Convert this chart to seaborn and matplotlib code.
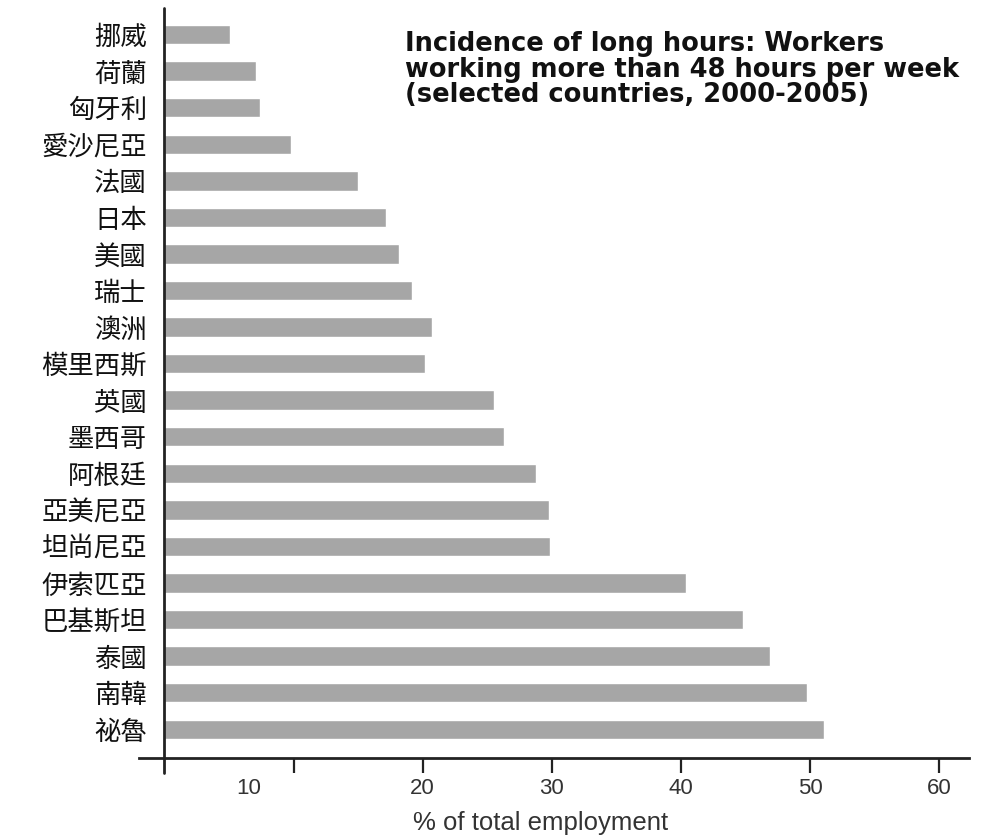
import matplotlib
matplotlib.use("Agg")
import matplotlib.pyplot as plt
import matplotlib.transforms as mtransforms
import seaborn as sns
import pandas as pd

# countries top to bottom, as on the chart
countries = ["挪威", "荷蘭", "匈牙利", "愛沙尼亞", "法國", "日本", "美國", "瑞士", "澳洲", "模里西斯",
             "英國", "墨西哥", "阿根廷", "亞美尼亞", "坦尚尼亞", "伊索匹亞", "巴基斯坦", "泰國", "南韓", "祕魯"]
share = [5.1, 7.1, 7.4, 9.8, 15.0, 17.2, 18.2, 19.2, 20.7, 20.2,
         25.5, 26.3, 28.8, 29.8, 29.9, 40.4, 44.8, 46.9, 49.8, 51.1]
xticks = [10, 20, 30, 40, 50, 60]
title = "Incidence of long hours: Workers\nworking more than 48 hours per week\n(selected countries, 2000-2005)"
xlabel = "% of total employment"

df = pd.DataFrame({"country": countries, "share": share})

sns.set_style("white")
plt.rcParams["font.family"] = ["Liberation Sans", "Noto Sans CJK TC", "DejaVu Sans"]

fig = plt.figure(figsize=(10.04, 8.39), dpi=100)
ax = fig.add_axes([0.138, 0.096, 0.827, 0.895])

sns.barplot(data=df, x="share", y="country", order=countries, orient="h",
            color="#a6a6a6", width=0.53, saturation=1, ax=ax)

ax.set_xlim(-2, 62.3)
ax.set_ylim(19.8, -0.74)

for s in ["top", "right", "left"]:
    ax.spines[s].set_visible(False)
ax.spines["bottom"].set_linewidth(2)
ax.spines["bottom"].set_color("#222222")
# vertical axis drawn at zero, running a little below the x axis
ax.axvline(0, ymin=-0.02, ymax=1, color="#222222", lw=2, clip_on=False)

ax.set_xticks(xticks)
ax.set_xticklabels([str(t) for t in xticks])
ax.tick_params(axis="x", bottom=True, length=11, width=1.6, color="#222222", pad=3,
               labelsize=16, labelcolor="#333333")
ax.tick_params(axis="y", left=False, length=0, pad=-6)
for lbl in ax.get_yticklabels():
    lbl.set_fontfamily(["Noto Sans CJK TC"])
    lbl.set_fontsize(19)
    lbl.set_color("#111111")

# the "10" label sits left of its tick in the original print
lbl10 = ax.get_xticklabels()[0]
lbl10.set_transform(lbl10.get_transform() + mtransforms.ScaledTranslation(-0.45, 0, fig.dpi_scale_trans))

ax.set_xlabel(xlabel, fontsize=18.5, color="#333333", labelpad=9)
ax.xaxis.set_label_coords(0.484, -0.07)
ax.set_ylabel("")

fig.text(0.403, 0.963, title, ha="left", va="top", fontsize=18.5, fontweight="bold",
         family="DejaVu Sans", color="#111111", linespacing=0.98)

fig.savefig("out.png", dpi=100)
